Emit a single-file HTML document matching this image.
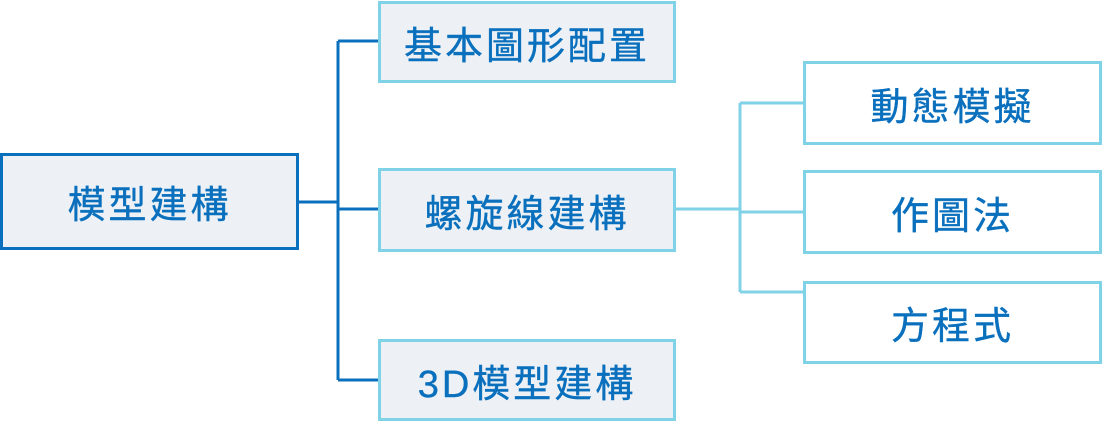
<!DOCTYPE html>
<html><head><meta charset="utf-8"><style>
body{margin:0;width:1102px;height:429px;background:#fff;overflow:hidden;position:relative;font-family:"Liberation Sans","Noto Sans CJK TC",sans-serif;}
.b{position:absolute;box-sizing:border-box;display:flex;align-items:center;justify-content:center;color:#0a70bd;font-size:38px;letter-spacing:3px;font-weight:normal;-webkit-text-stroke:0.4px #0a70bd;}
.r{border:3px solid #0a70bd;background:#edf1f5;}
.m{border:3px solid #80d2e6;background:#edf1f5;}
.w{border:3px solid #80d2e6;background:#fff;}
</style></head><body>
<svg width="1102" height="429" style="position:absolute;left:0;top:0">
<g stroke="#0a70bd" stroke-width="3" fill="none">
<path d="M297 202H338M338 41V380M338 41H380M338 209H380M338 380H380"/>
</g>
<g stroke="#80d2e6" stroke-width="3" fill="none">
<path d="M675 209H740M740 103V292M740 103H805M740 212H805M740 292H805"/>
</g>
</svg>
<div class="b r" style="left:0;top:153px;width:299px;height:97px">模型建構</div>
<div class="b m" style="left:378px;top:1px;width:298px;height:82px">基本圖形配置</div>
<div class="b m" style="left:378px;top:168px;width:298px;height:84px">螺旋線建構</div>
<div class="b m" style="left:378px;top:339px;width:298px;height:82px">3D模型建構</div>
<div class="b w" style="left:803px;top:61px;width:299px;height:84px">動態模擬</div>
<div class="b w" style="left:803px;top:170px;width:299px;height:84px">作圖法</div>
<div class="b w" style="left:803px;top:281px;width:299px;height:83px">方程式</div>
</body></html>
